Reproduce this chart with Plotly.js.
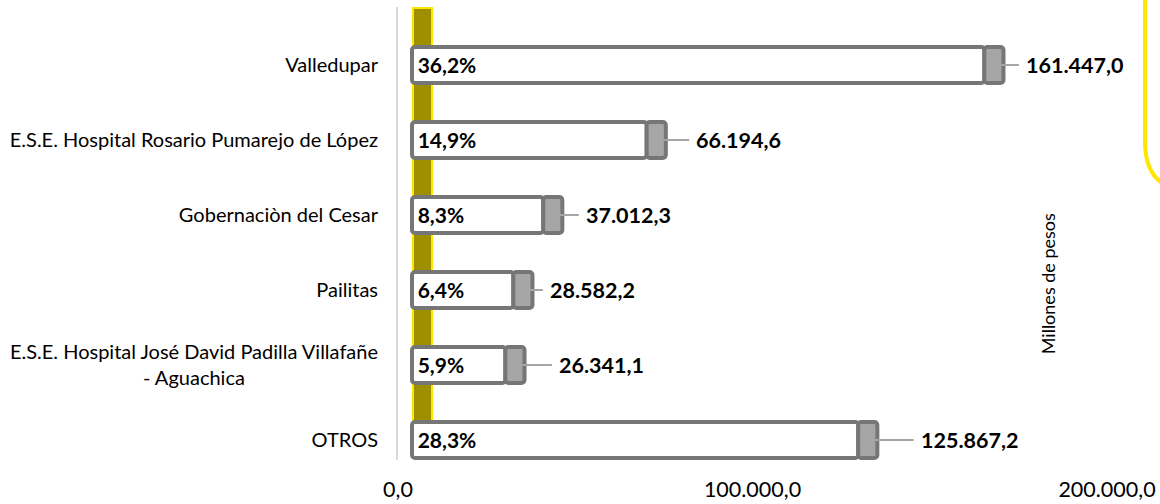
<!DOCTYPE html>
<html><head><meta charset="utf-8">
<script src="https://cdn.plot.ly/plotly-3.0.1.min.js"></script>
<style>html,body{margin:0;padding:0;background:#fff}#chart{width:1160px;height:504px}</style>
</head><body><div id="chart"></div>
<script>
// ---- data ----
const categories = ["Valledupar", "E.S.E. Hospital Rosario Pumarejo de López", "Gobernaciòn del Cesar", "Pailitas", "E.S.E. Hospital José David Padilla Villafañe - Aguachica", "OTROS"];
const tickLabels = ["Valledupar", "E.S.E. Hospital Rosario Pumarejo de López", "Gobernaciòn del Cesar", "Pailitas", "E.S.E. Hospital José David Padilla Villafañe<br>- Aguachica" + "\u00a0".repeat(26), "OTROS"];
const values = [161447.0, 66194.6, 37012.3, 28582.2, 26341.1, 125867.2];
const shares = ["36,2%", "14,9%", "8,3%", "6,4%", "5,9%", "28,3%"];
const xTickVals = [0, 100000, 200000];
const axisTitle = "Millones de pesos";

// ---- style ----
const FONT = "Lato, 'Noto Sans', sans-serif";
const BASE = 3950;      // bar start offset (visual)
const CAP = 5400;       // grey end cap length (visual)
const labelOffsets = [25, 33, 26, 20, 37, 46];
const OUTLINE = "#767676";

function fmt(v) {
  const parts = v.toFixed(1).split(".");
  return parts[0].replace(/\B(?=(\d{3})+(?!\d))/g, ".") + "," + parts[1];
}

const white = {
  type: "bar", orientation: "h", y: categories, x: values,
  base: values.map(() => BASE), width: 0.48,
  marker: { color: "#ffffff", line: { color: OUTLINE, width: 4 }, cornerradius: 3 },
  text: shares.map(s => "\u2009" + s), textposition: "inside", insidetextanchor: "start",
  textfont: { family: FONT, size: 21, color: "#000000", weight: 700 },
  hoverinfo: "skip", cliponaxis: false
};
const cap = {
  type: "bar", orientation: "h", y: categories, x: values.map(() => CAP),
  base: values.map(v => v + BASE), width: 0.48,
  marker: { color: "#a6a6a6", line: { color: OUTLINE, width: 4 }, cornerradius: 3 },
  hoverinfo: "skip", cliponaxis: false
};

const annotations = values.map((v, i) => ({
  x: BASE + v + CAP / 2, y: categories[i], xref: "x", yref: "y",
  text: fmt(v), showarrow: true, arrowhead: 0, arrowwidth: 2, arrowcolor: "#a6a6a6",
  ax: labelOffsets[i], ay: 0, xanchor: "left", standoff: 0, borderpad: 6,
  font: { family: FONT, size: 21.5, color: "#000000", weight: 700 }
}));
annotations.push({
  xref: "paper", yref: "paper", x: 0.87, y: 0.39, text: axisTitle, textangle: -90,
  showarrow: false, font: { family: FONT, size: 18, color: "#000000" }
});

const layout = {
  width: 1160, height: 504, paper_bgcolor: "#ffffff", plot_bgcolor: "#ffffff",
  margin: { l: 398, r: 0, t: 7, b: 44 },
  separators: ",.",
  barmode: "overlay", showlegend: false,
  font: { family: FONT, color: "#000000" },
  xaxis: {
    range: [0, 214950], tickvals: xTickVals, tickformat: ",.1f",
    showgrid: false, zeroline: false, showline: false, ticks: "",
    ticklabelstandoff: 14, tickfont: { family: FONT, size: 21.5, color: "#000000" }
  },
  yaxis: {
    type: "category", range: [5.267, -0.773], tickvals: categories, ticktext: tickLabels,
    showgrid: false, zeroline: false, showline: true, linecolor: "#d9d9d9", linewidth: 2,
    ticks: "", ticklabelstandoff: 14, tickfont: { family: FONT, size: 20, color: "#000000" }
  },
  shapes: [
    { type: "rect", xref: "paper", yref: "paper", layer: "below",
      x0: (413 - 398) / 762, x1: (432 - 398) / 762, y0: 0.02, y1: 0.998,
      fillcolor: "#9e8f00", line: { color: "#ffe600", width: 2 } },
    { type: "path", xref: "paper", yref: "paper", layer: "above",
      path: "M " + ((1145 - 398) / 762) + " " + ((460 + 2) / 453) +
            " L " + ((1145 - 398) / 762) + " " + ((460 - 142) / 453) +
            " Q " + ((1145.5 - 398) / 762) + " " + ((460 - 182) / 453) + " " + ((1175 - 398) / 762) + " " + ((460 - 188) / 453),
      line: { color: "#ffe600", width: 4 } }
  ],
  annotations: annotations
};

Plotly.newPlot("chart", [white, cap], layout, { displayModeBar: false, staticPlot: true });
</script>
</body></html>
